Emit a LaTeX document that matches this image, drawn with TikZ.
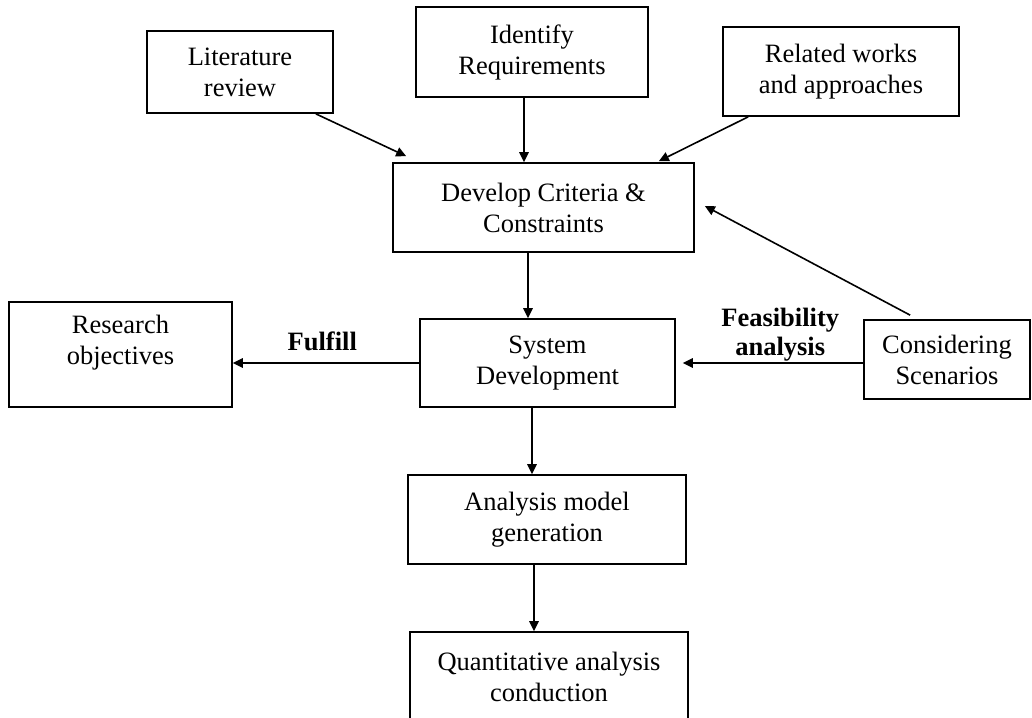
\documentclass[tikz,border=0pt]{standalone}
\usepackage{fontspec}
\setmainfont{Liberation Serif}
\usetikzlibrary{arrows.meta}
\begin{document}
\begin{tikzpicture}[x=1pt,y=-1pt,
  box/.style={draw, line width=1.7pt, align=center, inner sep=0pt,
    font=\fontsize{26.5}{31}\selectfont},
  txt/.style={align=center, inner sep=0pt, font=\fontsize{26.5}{31}\selectfont},
  lbl/.style={align=center, inner sep=0pt, font=\fontsize{26.5}{29}\selectfont\bfseries},
  arr/.style={line width=1.6pt, -{Triangle[length=10pt,width=9.5pt]}}]
\useasboundingbox (0,0) rectangle (1032,717);
\clip (0,0) rectangle (1032,717);
% boxes
\node[box, minimum width=186pt, minimum height=82pt] (lit) at (240,72) {Literature\\review};
\node[box, minimum width=232pt, minimum height=90pt] (idr) at (532,52) {Identify\\Requirements};
\node[box, minimum width=236pt, minimum height=89pt] (rel) at (841,71.5) {Related works\\and approaches};
\node[box, minimum width=301pt, minimum height=89pt] (dev) at (543.5,207.5) {Develop Criteria \&\\Constraints};
\node[box, minimum width=223pt, minimum height=105pt] (res) at (120.5,354.5) {};
\node[txt] (restext) at (120.5,343) {Research\\objectives};
\node[box, minimum width=255pt, minimum height=88pt] (sys) at (547.5,363) {System\\Development};
\node[box, minimum width=166pt, minimum height=79pt] (sc) at (947,359.5) {Considering\\Scenarios};
\node[box, minimum width=278pt, minimum height=89pt] (ana) at (547,519.5) {Analysis model\\generation};
\node[box, minimum width=278pt, minimum height=89pt] (qua) at (549,676.5) {Quantitative analysis\\conduction};
% connectors
\draw[arr] ([xshift=-18pt]lit.south east) -- ([xshift=14pt,yshift=6pt]dev.north west);
\draw[arr] ([xshift=-8pt]idr.south) -- ([xshift=-8pt]idr.south |- dev.north);
\draw[arr] ([xshift=26pt]rel.south west) -- ([xshift=-36pt,yshift=1pt]dev.north east);
\draw[arr] ([xshift=47pt,yshift=4pt]sc.north west) -- ([xshift=10pt,yshift=1.5pt]dev.east);
\draw[arr] ([xshift=-15.5pt]dev.south) -- ([xshift=-15.5pt]dev.south |- sys.north);
\draw[arr] (sys.west) -- node[lbl, above=11pt, pos=0.52] (fulfill) {Fulfill} (sys.west -| res.east);
\draw[arr] ([yshift=-3.5pt]sc.west) -- node[lbl, above=1pt, pos=0.46] (feas) {Feasibility\\analysis} ([yshift=-3.5pt,xshift=7pt]sc.west -| sys.east);
\draw[arr] ([xshift=-15.5pt]sys.south) -- ([xshift=-15.5pt]sys.south |- ana.north);
\draw[arr] ([xshift=-13pt]ana.south) -- ([xshift=-13pt]ana.south |- qua.north);
\end{tikzpicture}
\end{document}
